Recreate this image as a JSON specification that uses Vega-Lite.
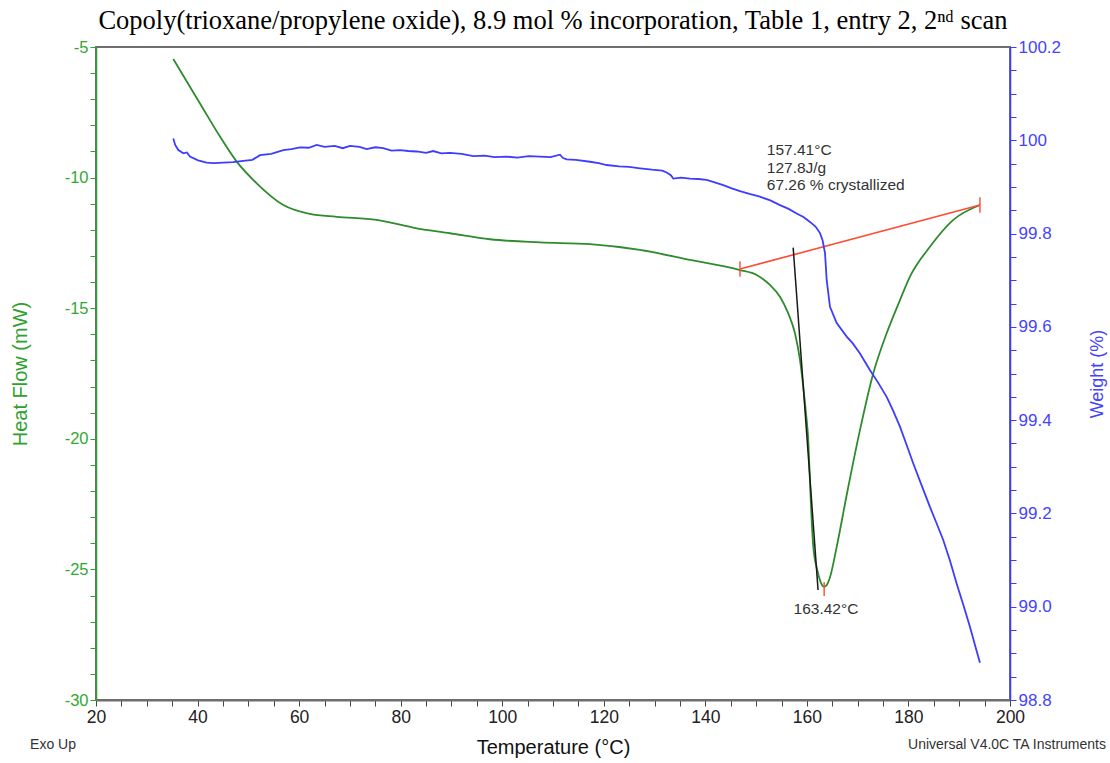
{
  "$schema": "https://vega.github.io/schema/vega-lite/v6.json",
  "width": 914,
  "height": 653,
  "autosize": "none",
  "padding": {"left": 96, "top": 47, "right": 100, "bottom": 63},
  "background": "white",
  "config": {"view": {"stroke": "#6e6e6e", "strokeWidth": 2}, "font": "Liberation Sans", "axis": {"labelOverlap": false}},
  "title": {"text": "Copoly(trioxane/propylene oxide), 8.9 mol % incorporation, Table 1, entry 2, 2ⁿᵈ scan", "font": "Liberation Serif", "fontSize": 26.5, "fontWeight": "normal", "color": "#000000", "offset": 4, "anchor": "middle"},
  "datasets": {
    "hf": [
      {"T": 35.22, "hf": -5.46}, {"T": 40.48, "hf": -7.16}, {"T": 44.42, "hf": -8.43}, {"T": 47.71, "hf": -9.39},
      {"T": 51.65, "hf": -10.22}, {"T": 56.89, "hf": -11.05}, {"T": 62.14, "hf": -11.39}, {"T": 67.4, "hf": -11.5},
      {"T": 75.28, "hf": -11.62}, {"T": 83.15, "hf": -11.94}, {"T": 89.71, "hf": -12.13}, {"T": 97.59, "hf": -12.36},
      {"T": 107.44, "hf": -12.48}, {"T": 117.28, "hf": -12.55}, {"T": 127.13, "hf": -12.77}, {"T": 136.98, "hf": -13.15},
      {"T": 146.82, "hf": -13.54}, {"T": 150.11, "hf": -13.73}, {"T": 152.73, "hf": -14.11}, {"T": 154.7, "hf": -14.56},
      {"T": 156.33, "hf": -15.2}, {"T": 157.65, "hf": -15.96}, {"T": 158.64, "hf": -16.98}, {"T": 159.29, "hf": -18.01},
      {"T": 159.82, "hf": -19.02}, {"T": 160.27, "hf": -20.05}, {"T": 160.6, "hf": -21.6}, {"T": 160.94, "hf": -23.11},
      {"T": 161.26, "hf": -24.13}, {"T": 162.04, "hf": -25.02}, {"T": 162.57, "hf": -25.41}, {"T": 163.36, "hf": -25.66},
      {"T": 163.9, "hf": -25.6}, {"T": 164.55, "hf": -25.3}, {"T": 165.87, "hf": -24.14}, {"T": 167.84, "hf": -22.15},
      {"T": 170.46, "hf": -19.66}, {"T": 173.08, "hf": -17.49}, {"T": 175.71, "hf": -15.96}, {"T": 178.33, "hf": -14.69},
      {"T": 180.3, "hf": -13.79}, {"T": 184.23, "hf": -12.65}, {"T": 188.83, "hf": -11.62}, {"T": 194.08, "hf": -11.05}
    ],
    "wt": [
      {"T": 35.22, "w": 100.004}, {"T": 35.6, "w": 99.99}, {"T": 36.21, "w": 99.979}, {"T": 37.2, "w": 99.972}, {"T": 37.9, "w": 99.974},
      {"T": 38.51, "w": 99.965}, {"T": 40.1, "w": 99.957}, {"T": 41.8, "w": 99.952}, {"T": 43.2, "w": 99.951}, {"T": 45.07, "w": 99.952},
      {"T": 47.0, "w": 99.953}, {"T": 49.01, "w": 99.956}, {"T": 50.8, "w": 99.958}, {"T": 52.3, "w": 99.968}, {"T": 54.5, "w": 99.971},
      {"T": 56.89, "w": 99.979}, {"T": 58.5, "w": 99.981}, {"T": 60.17, "w": 99.985}, {"T": 61.9, "w": 99.984}, {"T": 63.46, "w": 99.99},
      {"T": 65.0, "w": 99.986}, {"T": 67.0, "w": 99.988}, {"T": 68.6, "w": 99.983}, {"T": 70.02, "w": 99.988}, {"T": 71.9, "w": 99.986},
      {"T": 73.31, "w": 99.981}, {"T": 75.0, "w": 99.985}, {"T": 76.58, "w": 99.983}, {"T": 78.2, "w": 99.978}, {"T": 79.87, "w": 99.979},
      {"T": 81.5, "w": 99.977}, {"T": 83.15, "w": 99.976}, {"T": 85.0, "w": 99.973}, {"T": 86.4, "w": 99.977}, {"T": 88.0, "w": 99.972},
      {"T": 89.71, "w": 99.973}, {"T": 92.0, "w": 99.971}, {"T": 94.3, "w": 99.966}, {"T": 96.5, "w": 99.967}, {"T": 98.5, "w": 99.964},
      {"T": 100.88, "w": 99.965}, {"T": 103.0, "w": 99.963}, {"T": 105.2, "w": 99.966}, {"T": 107.44, "w": 99.965}, {"T": 109.5, "w": 99.964},
      {"T": 111.37, "w": 99.969}, {"T": 112.0, "w": 99.962}, {"T": 112.69, "w": 99.959}, {"T": 114.5, "w": 99.958}, {"T": 117.28, "w": 99.954},
      {"T": 119.0, "w": 99.951}, {"T": 120.57, "w": 99.947}, {"T": 123.0, "w": 99.944}, {"T": 125.0, "w": 99.943}, {"T": 127.13, "w": 99.94},
      {"T": 129.5, "w": 99.937}, {"T": 131.5, "w": 99.935}, {"T": 132.39, "w": 99.931}, {"T": 133.2, "w": 99.925}, {"T": 133.69, "w": 99.918},
      {"T": 135.2, "w": 99.92}, {"T": 136.98, "w": 99.918}, {"T": 138.6, "w": 99.917}, {"T": 140.26, "w": 99.915}, {"T": 142.0, "w": 99.909},
      {"T": 143.53, "w": 99.904}, {"T": 145.2, "w": 99.897}, {"T": 146.82, "w": 99.891}, {"T": 148.7, "w": 99.885}, {"T": 150.76, "w": 99.879},
      {"T": 152.8, "w": 99.871}, {"T": 154.7, "w": 99.861}, {"T": 156.4, "w": 99.853}, {"T": 157.99, "w": 99.843}, {"T": 159.4, "w": 99.835},
      {"T": 160.61, "w": 99.825}, {"T": 161.7, "w": 99.815}, {"T": 162.58, "w": 99.801}, {"T": 163.1, "w": 99.785}, {"T": 163.57, "w": 99.758},
      {"T": 163.9, "w": 99.7}, {"T": 164.55, "w": 99.643}, {"T": 165.87, "w": 99.608}, {"T": 167.84, "w": 99.579}, {"T": 169.0, "w": 99.565},
      {"T": 170.46, "w": 99.543}, {"T": 172.43, "w": 99.507}, {"T": 174.0, "w": 99.481}, {"T": 175.71, "w": 99.45}, {"T": 177.0, "w": 99.42},
      {"T": 178.33, "w": 99.386}, {"T": 179.7, "w": 99.345}, {"T": 180.95, "w": 99.307}, {"T": 182.6, "w": 99.26}, {"T": 184.23, "w": 99.214},
      {"T": 185.5, "w": 99.18}, {"T": 186.85, "w": 99.143}, {"T": 188.2, "w": 99.098}, {"T": 189.49, "w": 99.05}, {"T": 190.8, "w": 99.004},
      {"T": 192.11, "w": 98.957}, {"T": 193.1, "w": 98.918}, {"T": 194.08, "w": 98.88}
    ],
    "baseline": [{"T": 146.82, "hf": -13.5}, {"T": 194.08, "hf": -11.05}],
    "tangent": [{"T": 157.3, "hf": -12.68}, {"T": 162.2, "hf": -25.79}],
    "ticks": [
      {"T": 146.82, "a": -13.2, "b": -13.8},
      {"T": 194.08, "a": -10.75, "b": -11.35},
      {"T": 163.4, "a": -25.48, "b": -26.02}
    ],
    "notes": [
      {"T": 152.1, "hf": -8.68, "label": "157.41°C\n127.8J/g\n67.26 % crystallized"}
    ],
    "peak": [{"T": 163.76, "hf": -26.52, "label": "163.42°C"}],
    "footL": [{"T": 11.53, "hf": -31.72, "label": "Exo Up"}],
    "footR": [{"T": 218.9, "hf": -31.72, "label": "Universal V4.0C TA Instruments"}]
  },
  "encoding": {
    "x": {
      "field": "T", "type": "quantitative",
      "scale": {"domain": [20, 200], "nice": false, "zero": false},
      "axis": {
        "title": "Temperature (°C)",
        "values": [20,25,30,35,40,45,50,55,60,65,70,75,80,85,90,95,100,105,110,115,120,125,130,135,140,145,150,155,160,165,170,175,180,185,190,195,200],
        "tickCount": 200,
        "labelExpr": "'' + datum.value",
        "labelOpacity": {"condition": {"test": "datum.value % 20 !== 0", "value": 0}, "value": 1},
        "labelOverlap": false,
        "labelFlush": false,
        "grid": false,
        "domainColor": "#6e6e6e", "domainWidth": 2,
        "tickColor": "#444444", "tickSize": 6, "tickWidth": 1,
        "labelFont": "Liberation Sans", "labelFontSize": 17.5, "labelColor": "#222222", "labelPadding": 2,
        "titleFont": "Liberation Sans", "titleFontSize": 20, "titleFontWeight": "normal", "titleColor": "#111111", "titlePadding": 12
      }
    }
  },
  "layer": [
    {
      "layer": [
        {
          "data": {"name": "hf"},
          "mark": {"type": "line", "color": "#2e8b2e", "strokeWidth": 1.8, "interpolate": "monotone"},
          "encoding": {
            "y": {
              "field": "hf", "type": "quantitative",
              "scale": {"domain": [-30, -5], "nice": false, "zero": false},
              "axis": {
                "orient": "left",
                "title": "Heat Flow (mW)",
                "values": [-30,-29,-28,-27,-26,-25,-24,-23,-22,-21,-20,-19,-18,-17,-16,-15,-14,-13,-12,-11,-10,-9,-8,-7,-6,-5],
                "tickCount": 200,
                "labelExpr": "'' + datum.value",
                "labelOpacity": {"condition": {"test": "datum.value % 5 !== 0", "value": 0}, "value": 1},
                "labelOverlap": false,
                "labelFlush": false,
                "grid": false,
                "domainColor": "#2ea02e", "domainWidth": 1.5,
                "tickColor": "#2ea02e", "tickSize": 6, "tickWidth": 1,
                "labelFont": "Liberation Sans", "labelFontSize": 16.5, "labelColor": "#33a833", "labelPadding": 2,
                "titleFont": "Liberation Sans", "titleFontSize": 20, "titleFontWeight": "normal", "titleColor": "#2ea02e", "titlePadding": 34
              }
            }
          }
        },
        {
          "data": {"name": "baseline"},
          "mark": {"type": "line", "color": "#ff4a33", "strokeWidth": 1.6},
          "encoding": {"y": {"field": "hf", "type": "quantitative"}}
        },
        {
          "data": {"name": "tangent"},
          "mark": {"type": "line", "color": "#1a1a1a", "strokeWidth": 1.5},
          "encoding": {"y": {"field": "hf", "type": "quantitative"}}
        },
        {
          "data": {"name": "ticks"},
          "mark": {"type": "rule", "color": "#ff4a33", "strokeWidth": 1.4},
          "encoding": {"y": {"field": "a", "type": "quantitative"}, "y2": {"field": "b"}}
        },
        {
          "data": {"name": "notes"},
          "mark": {"type": "text", "align": "left", "baseline": "top", "lineBreak": "\n", "lineHeight": 17.5, "font": "Liberation Sans", "fontSize": 15.5, "color": "#333333"},
          "encoding": {"y": {"field": "hf", "type": "quantitative"}, "text": {"field": "label"}}
        },
        {
          "data": {"name": "peak"},
          "mark": {"type": "text", "align": "center", "baseline": "middle", "font": "Liberation Sans", "fontSize": 15.5, "color": "#333333"},
          "encoding": {"y": {"field": "hf", "type": "quantitative"}, "text": {"field": "label"}}
        },
        {
          "data": {"name": "footL"},
          "mark": {"type": "text", "align": "center", "baseline": "middle", "font": "Liberation Sans", "fontSize": 14, "color": "#333333"},
          "encoding": {"y": {"field": "hf", "type": "quantitative"}, "text": {"field": "label"}}
        },
        {
          "data": {"name": "footR"},
          "mark": {"type": "text", "align": "right", "baseline": "middle", "font": "Liberation Sans", "fontSize": 14, "color": "#333333"},
          "encoding": {"y": {"field": "hf", "type": "quantitative"}, "text": {"field": "label"}}
        }
      ]
    },
    {
      "data": {"name": "wt"},
      "mark": {"type": "line", "color": "#3d3dff", "strokeWidth": 1.8},
      "encoding": {
        "y": {
          "field": "w", "type": "quantitative",
          "scale": {"domain": [98.8, 100.2], "nice": false, "zero": false},
          "axis": {
            "orient": "right",
            "title": "Weight (%)",
            "titleAngle": 270,
            "values": [98.8,98.85,98.9,98.95,99,99.05,99.1,99.15,99.2,99.25,99.3,99.35,99.4,99.45,99.5,99.55,99.6,99.65,99.7,99.75,99.8,99.85,99.9,99.95,100,100.05,100.1,100.15,100.2],
            "tickCount": 200,
            "labelExpr": "datum.value === 100 ? '100' : format(datum.value, '.1f')",
            "labelOpacity": {"condition": {"test": "abs(round(datum.value*100)) % 20 !== 0", "value": 0}, "value": 1},
            "labelOverlap": false,
            "labelFlush": false,
            "grid": false,
            "domainColor": "#3d3dff", "domainWidth": 1.5,
            "tickColor": "#3d3dff", "tickSize": 6, "tickWidth": 1,
            "labelFont": "Liberation Sans", "labelFontSize": 17, "labelColor": "#4444ff", "labelPadding": 2,
            "titleFont": "Liberation Sans", "titleFontSize": 18, "titleFontWeight": "normal", "titleColor": "#4444ff", "titlePadding": 46
          }
        }
      }
    }
  ],
  "resolve": {"scale": {"y": "independent"}}
}
